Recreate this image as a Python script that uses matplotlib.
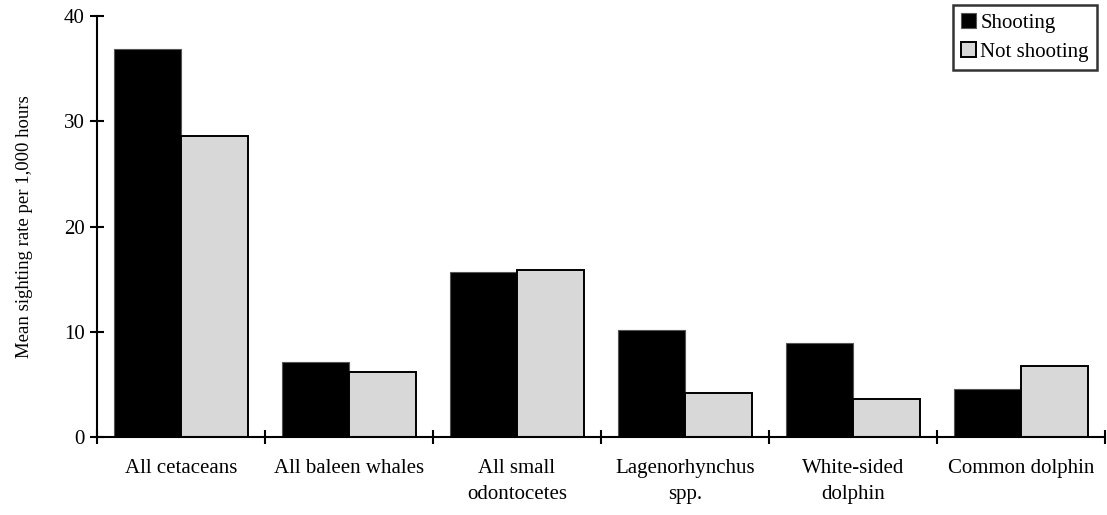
import matplotlib
matplotlib.use("Agg")
import matplotlib.pyplot as plt
import numpy as np

plt.rcParams["font.family"] = ["Liberation Serif", "DejaVu Serif"]

categories = ["All cetaceans", "All baleen whales", "All small\nodontocetes",
              "Lagenorhynchus\nspp.", "White-sided\ndolphin", "Common dolphin"]
shooting = [36.9, 7.1, 15.7, 10.2, 8.9, 4.6]
not_shooting = [28.6, 6.2, 15.9, 4.2, 3.6, 6.7]
y_ticks = [0, 10, 20, 30, 40]

W, H = 1107, 515
fig = plt.figure(figsize=(W / 100, H / 100), dpi=100)
ax = fig.add_axes([97 / W, (H - 437) / H, (1105 - 97) / W, (437 - 16) / H])

x = np.arange(len(categories))
bw = 0.4
ax.bar(x - bw / 2, shooting, bw, color="black", edgecolor="#555555",
       linewidth=0.8, label="Shooting")
ax.bar(x + bw / 2, not_shooting, bw, color="#d8d8d8", edgecolor="black",
       linewidth=1.4, label="Not shooting")

ax.set_xlim(-0.5, len(categories) - 0.5)
ax.set_ylim(0, 40)
ax.set_yticks(y_ticks)
ax.set_xticks(x)
ax.set_xticklabels(categories, fontsize=15, linespacing=1.5)
ax.set_xticks(np.arange(-0.5, len(categories)), minor=True)
ax.tick_params(axis="x", which="major", length=0, pad=16)
ax.tick_params(axis="x", which="minor", direction="inout", length=10, width=1.5)
ax.tick_params(axis="y", direction="inout", length=10, width=1.5,
               labelsize=15, pad=4)

for s in ["top", "right"]:
    ax.spines[s].set_visible(False)
for s in ["left", "bottom"]:
    ax.spines[s].set_linewidth(1.5)
ax.spines["bottom"].set_zorder(5)

ax.set_ylabel("Mean sighting rate per 1,000 hours", fontsize=13.5, labelpad=22)

leg = ax.legend(loc="upper right", bbox_to_anchor=(1097 / W, 1 - 5 / H),
                bbox_transform=fig.transFigure, borderaxespad=0,
                frameon=True, fancybox=False, edgecolor="black", fontsize=15,
                handlelength=0.72, handleheight=0.72, handletextpad=0.2,
                borderpad=0.4, labelspacing=0.45)
leg.get_frame().set_linewidth(1.8)

fig.savefig("out.png", dpi=100)
